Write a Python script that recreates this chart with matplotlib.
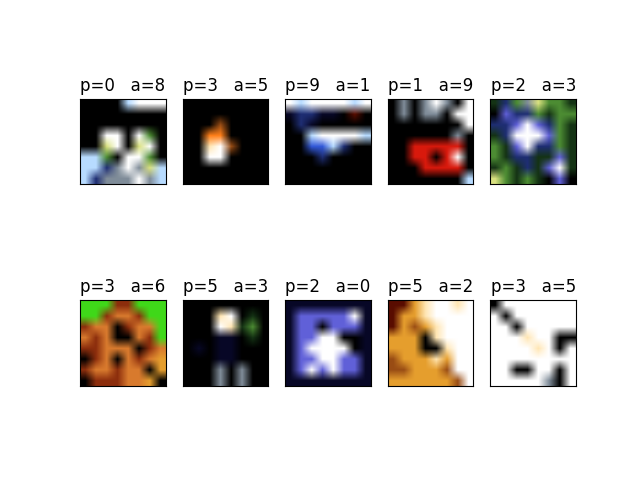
import numpy as np
import matplotlib
matplotlib.use("Agg")
import matplotlib.pyplot as plt

predicted = [0, 3, 9, 1, 2, 3, 5, 2, 5, 3]
actual = [8, 5, 1, 9, 3, 6, 3, 0, 2, 5]

palette = {
    'k': (0.0, 0.0, 0.0), 'w': (1.0, 1.0, 1.0), 'b': (0.72, 0.86, 1.0),
    'B': (0.12, 0.18, 0.45), 'g': (0.3, 0.55, 0.2), 'y': (0.85, 0.88, 0.5),
    'G': (0.5, 0.55, 0.6), 'o': (1.0, 0.5, 0.1), 'r': (0.85, 0.1, 0.05),
    'n': (0.6, 0.3, 0.08), 'c': (1.0, 0.9, 0.7), 'u': (0.2, 0.35, 0.85),
    'p': (0.38, 0.38, 0.85), 'l': (0.25, 0.85, 0.1), 'd': (0.08, 0.2, 0.08),
    'e': (0.03, 0.03, 0.15), 'm': (0.35, 0.05, 0.0), 'Y': (0.9, 0.62, 0.18),
    'R': (0.55, 0.18, 0.05), 'O': (0.85, 0.48, 0.18),
}

img0 = ["kkkkbwww", "kkkkkkkk", "kkkkkkkk", "kkwwkwgk",
        "kkywkywk", "bbgkwwgk", "bbBGwGyb", "bBGGGwGb"]
img1 = ["kkkkkkkk", "kkkkkkkk", "kkknkkkk", "kkookkkk",
        "kkcwnkkk", "kkwwkkkk", "kkkkkkkk", "kkkkkkkk"]
img2 = ["wbwwwwbw", "eBBeekmk", "kBekkkkk", "kkbwwwwb",
        "kkuubBkk", "kkkBkkkk", "kkkkkkkk", "kkkkkkkk"]
img3 = ["kGkGwGkw", "kGkGGkww", "kkkkkkkw", "kkkkkkGk",
        "kkrrrrrk", "kkrrkrwk", "kkkrrrrk", "kkkkkkkb"]
img4 = ["dBgGyggd", "kpBBgdgg", "BBpwpBgd", "dBwwwpgd",
        "gdpwBBgd", "gdBBddpd", "dgdBdpwd", "ygdgdkpk"]
img5 = ["lllRRlll", "llROORll", "ROOkROOl", "OROkkORl",
        "RROOOkRO", "kROkOROY", "ROOROOkY", "kRRROOYk"]
img6 = ["kkkkkkkk", "kkkcwkdk", "kkkwcdgk", "kkkeekdk",
        "kekeekkk", "kkkeekkk", "kkkGkGkk", "kkkGkGkk"]
img7 = ["eeeeeeee", "epppppwe", "eppkpppe", "eppwwkke",
        "epwwwwke", "eppwwppe", "epwpwppe", "eeeeeeee"]
img8 = ["mmYcwwcw", "mYYcwwww", "mYnYcwww", "YYYkcwww",
        "YYYkkcww", "nYYYcYww", "nnYYYnww", "YYYYYYnw"]
img9 = ["kwwwwwww", "wkwwwwww", "wwkwwwww", "wwwcwwkk",
        "wwwwcwkw", "wwwwwwww", "wwkkwwkw", "wwwwwGkw"]

images = [img0, img1, img2, img3, img4, img5, img6, img7, img8, img9]


def to_rgb(rows):
    return np.array([[palette[ch] for ch in row] for row in rows])


fig, axes = plt.subplots(2, 5, figsize=(6.4, 4.8), dpi=100)
for ax, rows, p, a in zip(axes.flat, images, predicted, actual):
    ax.imshow(to_rgb(rows), interpolation='bilinear')
    ax.set_title(f"p={p}   a={a}")
    ax.set_xticks([])
    ax.set_yticks([])

fig.savefig("out.png")
